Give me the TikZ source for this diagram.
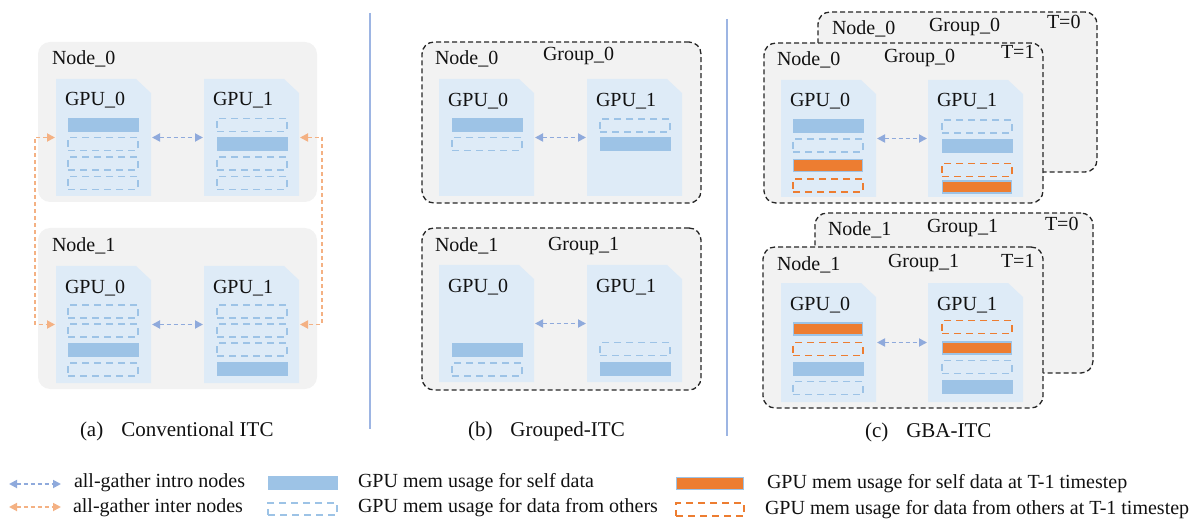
\documentclass[tikz,border=0pt]{standalone}
\usepackage{fontspec}
\setmainfont{Liberation Serif}
\usetikzlibrary{arrows.meta}
\definecolor{nodegray}{HTML}{F2F2F2}
\definecolor{docblue}{HTML}{DEEBF7}
\definecolor{barblue}{HTML}{9DC3E6}
\definecolor{arrblue}{HTML}{8FAADC}
\definecolor{arrorange}{HTML}{F4B183}
\definecolor{barorange}{HTML}{ED7D31}
\definecolor{sepblue}{HTML}{9DB5E3}
\definecolor{txt}{HTML}{111111}
\begin{document}
\begin{tikzpicture}[x=1pt,y=-1pt,
 every node/.style={font=\fontsize{20}{24}\selectfont, text=txt, inner sep=0pt, outer sep=0pt},
 lbl/.style={anchor=base west},
 captext/.style={anchor=base west, font=\fontsize{21}{25}\selectfont},
 nodebox/.style={fill=nodegray, rounded corners=12pt, anchor=north west},
 groupbox/.style={fill=nodegray, draw=black!85, line width=1.3pt, dash pattern=on 5pt off 3pt, rounded corners=12pt, anchor=north west},
 gpubox/.style={anchor=north west, minimum width=95pt, minimum height=117pt,
   path picture={\fill[docblue] (path picture bounding box.south west) -- (path picture bounding box.north west) -- ([xshift=-15pt]path picture bounding box.north east) -- ([yshift=-14pt]path picture bounding box.north east) -- (path picture bounding box.south east) -- cycle;}},
 sbar/.style={minimum width=70pt, minimum height=13pt, fill=barblue, draw=barblue, line width=0.8pt},
 obar/.style={minimum width=70pt, minimum height=13pt, draw=barblue, line width=1.3pt, dash pattern=on 7pt off 5pt},
 sobar/.style={minimum width=69pt, minimum height=12pt, fill=barorange, draw=barblue, line width=1.6pt},
 oobar/.style={minimum width=70pt, minimum height=13pt, draw=barorange, line width=1.5pt, dash pattern=on 7pt off 5pt},
 intra/.style={arrblue, line width=1.8pt, dash pattern=on 4pt off 3pt, {Triangle[length=8pt,width=8pt]}-{Triangle[length=8pt,width=8pt]}},
 inter/.style={arrorange, line width=1.8pt, dash pattern=on 4pt off 3pt, {Triangle[length=8pt,width=8pt]}-{Triangle[length=8pt,width=8pt]}},
 sepline/.style={sepblue, line width=1.8pt},
]
\useasboundingbox (0,0) rectangle (1196,521);

% ---------- separators ----------
\coordinate (s1t) at (370,13); \coordinate (s1b) at (370,429);
\coordinate (s2t) at (727,19); \coordinate (s2b) at (727,436);
\draw[sepline] (s1t) -- (s1b);
\draw[sepline] (s2t) -- (s2b);

% ---------- (a) Conventional ITC ----------
\node[nodebox, minimum width=279pt, minimum height=160pt] (aN0) at (38,42) {};
\node[nodebox, minimum width=279pt, minimum height=161pt] (aN1) at (38,228) {};
\node[lbl] (aN0l) at (52,65) {Node\_0};
\node[lbl] (aN1l) at (52,252) {Node\_1};
\node[gpubox] (a00) at (56,79) {};
\node[gpubox] (a01) at (204,79) {};
\node[gpubox] (a10) at (56,266) {};
\node[gpubox] (a11) at (204,266) {};
\node[lbl] (a00l) at (65,106) {GPU\_0};
\node[lbl] (a01l) at (213,106) {GPU\_1};
\node[lbl] (a10l) at (65,293) {GPU\_0};
\node[lbl] (a11l) at (213,293) {GPU\_1};
% bars
\node[sbar] (a00b1) at (103,125) {};
\node[obar] (a00b2) at (103,144) {};
\node[obar] (a00b3) at (103,163.5) {};
\node[obar] (a00b4) at (103,183) {};
\node[obar] (a01b1) at (252,125) {};
\node[sbar] (a01b2) at (252,144) {};
\node[obar] (a01b3) at (252,163.5) {};
\node[obar] (a01b4) at (252,183) {};
\node[obar] (a10b1) at (103,311.5) {};
\node[obar] (a10b2) at (103,330.5) {};
\node[sbar] (a10b3) at (103,350) {};
\node[obar] (a10b4) at (103,369.5) {};
\node[obar] (a11b1) at (252,311.5) {};
\node[obar] (a11b2) at (252,330.5) {};
\node[obar] (a11b3) at (252,349.5) {};
\node[sbar] (a11b4) at (252,368.5) {};
% arrows
\draw[intra] ([xshift=1pt]a00.east) -- ([xshift=-1pt]a01.west);
\draw[intra] ([xshift=1pt]a10.east) -- ([xshift=-1pt]a11.west);
\coordinate (aLx) at (35,0);
\coordinate (aRx) at (322,0);
\draw[inter] ([xshift=-1pt]a00.west) -- (a00.west -| aLx) -- (a10.west -| aLx) -- ([xshift=-1pt]a10.west);
\draw[inter] ([xshift=1pt]a01.east) -- (a01.east -| aRx) -- (a11.east -| aRx) -- ([xshift=1pt]a11.east);
\node[captext] (capa) at (80,436) {(a)\hspace{18pt}Conventional ITC};

% ---------- (b) Grouped-ITC ----------
\node[groupbox, minimum width=279pt, minimum height=161pt] (bN0) at (422,42) {};
\node[groupbox, minimum width=279pt, minimum height=162pt] (bN1) at (422,228) {};
\node[lbl] (bN0l) at (435,65) {Node\_0};
\node[lbl] (bG0l) at (543,61) {Group\_0};
\node[lbl] (bN1l) at (435,252) {Node\_1};
\node[lbl] (bG1l) at (548,251) {Group\_1};
\node[gpubox] (b00) at (439,79) {};
\node[gpubox] (b01) at (587,79) {};
\node[gpubox] (b10) at (439,265) {};
\node[gpubox] (b11) at (587,265) {};
\node[lbl] (b00l) at (448,107) {GPU\_0};
\node[lbl] (b01l) at (596,107) {GPU\_1};
\node[lbl] (b10l) at (448,292) {GPU\_0};
\node[lbl] (b11l) at (596,292) {GPU\_1};
\node[sbar] (b00b1) at (487,125) {};
\node[obar] (b00b2) at (487,144) {};
\node[obar] (b01b1) at (635,125.5) {};
\node[sbar] (b01b2) at (635,144) {};
\node[sbar] (b10b1) at (487,350) {};
\node[obar] (b10b2) at (487,369.5) {};
\node[obar] (b11b1) at (635,349) {};
\node[sbar] (b11b2) at (635,368.5) {};
\draw[intra] ([xshift=1pt]b00.east) -- ([xshift=-1pt]b01.west);
\draw[intra] ([xshift=1pt]b10.east) -- ([xshift=-1pt]b11.west);
\node[captext] (capb) at (468,436) {(b)\hspace{18pt}Grouped-ITC};

% ---------- (c) GBA-ITC ----------
\node[groupbox, minimum width=279pt, minimum height=160pt] (cN0t0) at (818,12) {};
\node[lbl] (cN0t0n) at (832,35) {Node\_0};
\node[lbl] (cN0t0g) at (929,32) {Group\_0};
\node[lbl] (cN0t0t) at (1047,29) {T=0};
\node[groupbox, minimum width=279pt, minimum height=160pt] (cN0) at (764,43) {};
\node[lbl] (cN0n) at (777,66) {Node\_0};
\node[lbl] (cN0g) at (884,63) {Group\_0};
\node[lbl] (cN0t) at (1001,59) {T=1};
\node[gpubox] (c00) at (781,80) {};
\node[gpubox] (c01) at (928,80) {};
\node[lbl] (c00l) at (790,107) {GPU\_0};
\node[lbl] (c01l) at (937,107) {GPU\_1};
\node[sbar] (c00b1) at (828,126) {};
\node[obar] (c00b2) at (828,145.5) {};
\node[sobar] (c00b3) at (828,165.5) {};
\node[oobar] (c00b4) at (828,185.5) {};
\node[obar] (c01b1) at (977,126.5) {};
\node[sbar] (c01b2) at (977,145.5) {};
\node[oobar] (c01b3) at (977,170) {};
\node[sobar] (c01b4) at (977,187) {};
\draw[intra] ([xshift=1pt]c00.east) -- ([xshift=-1pt]c01.west);
\node[groupbox, minimum width=278pt, minimum height=160pt] (cN1t0) at (815,213) {};
\node[lbl] (cN1t0n) at (828,236) {Node\_1};
\node[lbl] (cN1t0g) at (927,233) {Group\_1};
\node[lbl] (cN1t0t) at (1045,231) {T=0};
\node[groupbox, minimum width=280pt, minimum height=161pt] (cN1) at (763,247) {};
\node[lbl] (cN1n) at (777,270) {Node\_1};
\node[lbl] (cN1g) at (888,268) {Group\_1};
\node[lbl] (cN1t) at (1001,268) {T=1};
\node[gpubox, minimum height=119pt] (c10) at (781,283) {};
\node[gpubox, minimum height=119pt] (c11) at (928,283) {};
\node[lbl] (c10l) at (790,310) {GPU\_0};
\node[lbl] (c11l) at (937,310) {GPU\_1};
\node[sobar] (c10b1) at (828,329) {};
\node[oobar] (c10b2) at (828,349) {};
\node[sbar] (c10b3) at (828,368.5) {};
\node[obar] (c10b4) at (828,388) {};
\node[oobar] (c11b1) at (977,327) {};
\node[sobar] (c11b2) at (977,348) {};
\node[obar] (c11b3) at (977,367) {};
\node[sbar] (c11b4) at (977,386.5) {};
\draw[intra] ([xshift=1pt]c10.east) -- ([xshift=-1pt]c11.west);
\node[captext] (capc) at (865,437) {(c)\hspace{18pt}GBA-ITC};

% ---------- legend ----------
\coordinate (lg1a) at (9,484); \coordinate (lg1b) at (61,484);
\coordinate (lg2a) at (9,507); \coordinate (lg2b) at (61,507);
\draw[intra] (lg1a) -- (lg1b);
\draw[inter] (lg2a) -- (lg2b);
\node[lbl] (lg1t) at (74,487) {all-gather intro nodes};
\node[lbl] (lg2t) at (73,512) {all-gather inter nodes};
\node[sbar, minimum width=69pt] (lg3r) at (302.5,482.5) {};
\node[obar, minimum width=69pt, minimum height=12pt] (lg4r) at (302.5,509) {};
\node[lbl] (lg3t) at (358,487) {GPU mem usage for self data};
\node[lbl] (lg4t) at (358,512) {GPU mem usage for data from others};
\node[sobar, minimum width=67pt] (lg5r) at (710,483.5) {};
\node[oobar, minimum width=68pt] (lg6r) at (710,509.5) {};
\node[lbl] (lg5t) at (767,488) {GPU mem usage for self data at T-1 timestep};
\node[lbl] (lg6t) at (765,514) {GPU mem usage for data from others at T-1 timestep};
\end{tikzpicture}
\end{document}
